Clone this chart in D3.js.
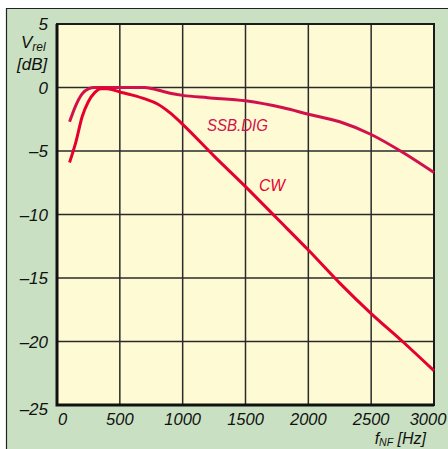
<!DOCTYPE html>
<html><head><meta charset="utf-8">
<script src="https://cdn.jsdelivr.net/npm/d3@7"></script>
<style>
html,body{margin:0;padding:0;background:#fff;}
svg text{font-family:"Liberation Sans",Arial,sans-serif;font-style:italic;}
</style></head>
<body>
<svg id="chart" width="448" height="449"></svg>
<script>
const xTicks = [0, 500, 1000, 1500, 2000, 2500, 3000];
const yTicks = [5, 0, -5, -10, -15, -20, -25];
const ssbFreq = [100, 150, 200, 250, 300, 400, 500, 600, 700, 800, 900, 1000, 1200, 1500, 1800, 2000, 2250, 2500, 2750, 3000];
const ssbDb   = [-2.7, -1.4, -0.5, -0.1, 0, 0, 0, 0, 0, -0.2, -0.45, -0.62, -0.8, -1.05, -1.6, -2.1, -2.7, -3.7, -5.1, -6.7];
const cwFreq = [100, 150, 200, 250, 300, 350, 400, 500, 600, 700, 800, 900, 1000, 1250, 1500, 1750, 2000, 2250, 2500, 2750, 3000];
const cwDb   = [-5.9, -4.3, -2.3, -1.1, -0.4, -0.1, -0.1, -0.35, -0.6, -0.9, -1.3, -2.0, -2.9, -5.4, -7.8, -10.3, -12.8, -15.4, -17.8, -20.0, -22.3];

const svg = d3.select("#chart");
const L = 57, R = 434, T = 24, B = 405;
const x = d3.scaleLinear().domain([0, 3000]).range([L, R]);
const y = d3.scaleLinear().domain([-25, 5]).range([B, T]);

// outer panel
svg.append("rect").attr("x", 6).attr("y", 8).attr("width", 442).attr("height", 441).attr("fill", "#c9e1c2");
svg.append("path").attr("d", "M6.5,449V8.5H448").attr("fill", "none").attr("stroke", "#222").attr("stroke-width", 1.2);
// plot background
svg.append("rect").attr("x", L).attr("y", T).attr("width", R - L).attr("height", B - T).attr("fill", "#fefad3");

// grid
svg.append("g").selectAll("line").data(xTicks.slice(1, -1)).join("line")
  .attr("x1", d => x(d)).attr("x2", d => x(d)).attr("y1", T).attr("y2", B)
  .attr("stroke", "#2a2a2a").attr("stroke-width", 1.5);
svg.append("g").selectAll("line").data(yTicks.slice(1, -1)).join("line")
  .attr("x1", L).attr("x2", R).attr("y1", d => y(d)).attr("y2", d => y(d))
  .attr("stroke", "#2a2a2a").attr("stroke-width", 1.5);
// frame
svg.append("rect").attr("x", L).attr("y", T).attr("width", R - L).attr("height", B - T)
  .attr("fill", "none").attr("stroke", "#1a1a1a").attr("stroke-width", 2);
svg.append("path").attr("d", `M${L},${T}V${B}H${R}`).attr("fill", "none").attr("stroke", "#111").attr("stroke-width", 3);

// curves
const line = d3.line().x(d => x(d[0])).y(d => y(d[1])).curve(d3.curveMonotoneX);
svg.append("path").datum(ssbFreq.map((f, i) => [f, ssbDb[i]])).attr("d", line)
  .attr("fill", "none").attr("stroke", "#d2104c").attr("stroke-width", 3).attr("stroke-linejoin", "round");
svg.append("path").datum(cwFreq.map((f, i) => [f, cwDb[i]])).attr("d", line)
  .attr("fill", "none").attr("stroke", "#e5002f").attr("stroke-width", 3).attr("stroke-linejoin", "round");

// y tick labels
svg.append("g").selectAll("text").data(yTicks).join("text")
  .attr("x", 48).attr("y", d => y(d) + (d === -25 ? 10 : 6))
  .attr("text-anchor", "end").attr("font-size", 17).attr("fill", "#111")
  .text(d => d < 0 ? "\u2013" + Math.abs(d) : String(d));
// x tick labels
svg.append("g").selectAll("text").data(xTicks).join("text")
  .attr("x", d => d === 0 ? x(d) + 1 : (d === 3000 ? x(d) - 6 : x(d)))
  .attr("y", 425)
  .attr("text-anchor", d => d === 0 ? "start" : "middle").attr("font-size", 16.5).attr("fill", "#111")
  .text(d => String(d));

// axis titles
const yt = svg.append("text").attr("x", 21).attr("y", 48).attr("font-size", 17).attr("fill", "#111");
yt.append("tspan").text("V");
yt.append("tspan").attr("font-size", 12).attr("dy", 3).text("rel");
svg.append("text").attr("x", 17).attr("y", 70).attr("font-size", 17).attr("fill", "#111").text("[dB]");
const xt = svg.append("text").attr("x", 426).attr("y", 444).attr("text-anchor", "end").attr("font-size", 16).attr("fill", "#111");
xt.append("tspan").text("f");
xt.append("tspan").attr("font-size", 10.5).attr("dy", 1.5).text("NF");
xt.append("tspan").attr("dy", -1.5).text(" [Hz]");

// series labels
svg.append("text").attr("x", 207).attr("y", 131).attr("font-size", 17).attr("fill", "#d2104c")
  .attr("textLength", 61).attr("lengthAdjust", "spacingAndGlyphs").text("SSB.DIG");
svg.append("text").attr("x", 259).attr("y", 191).attr("font-size", 17).attr("fill", "#e5002f")
  .attr("textLength", 26).attr("lengthAdjust", "spacingAndGlyphs").text("CW");
</script>
</body></html>
